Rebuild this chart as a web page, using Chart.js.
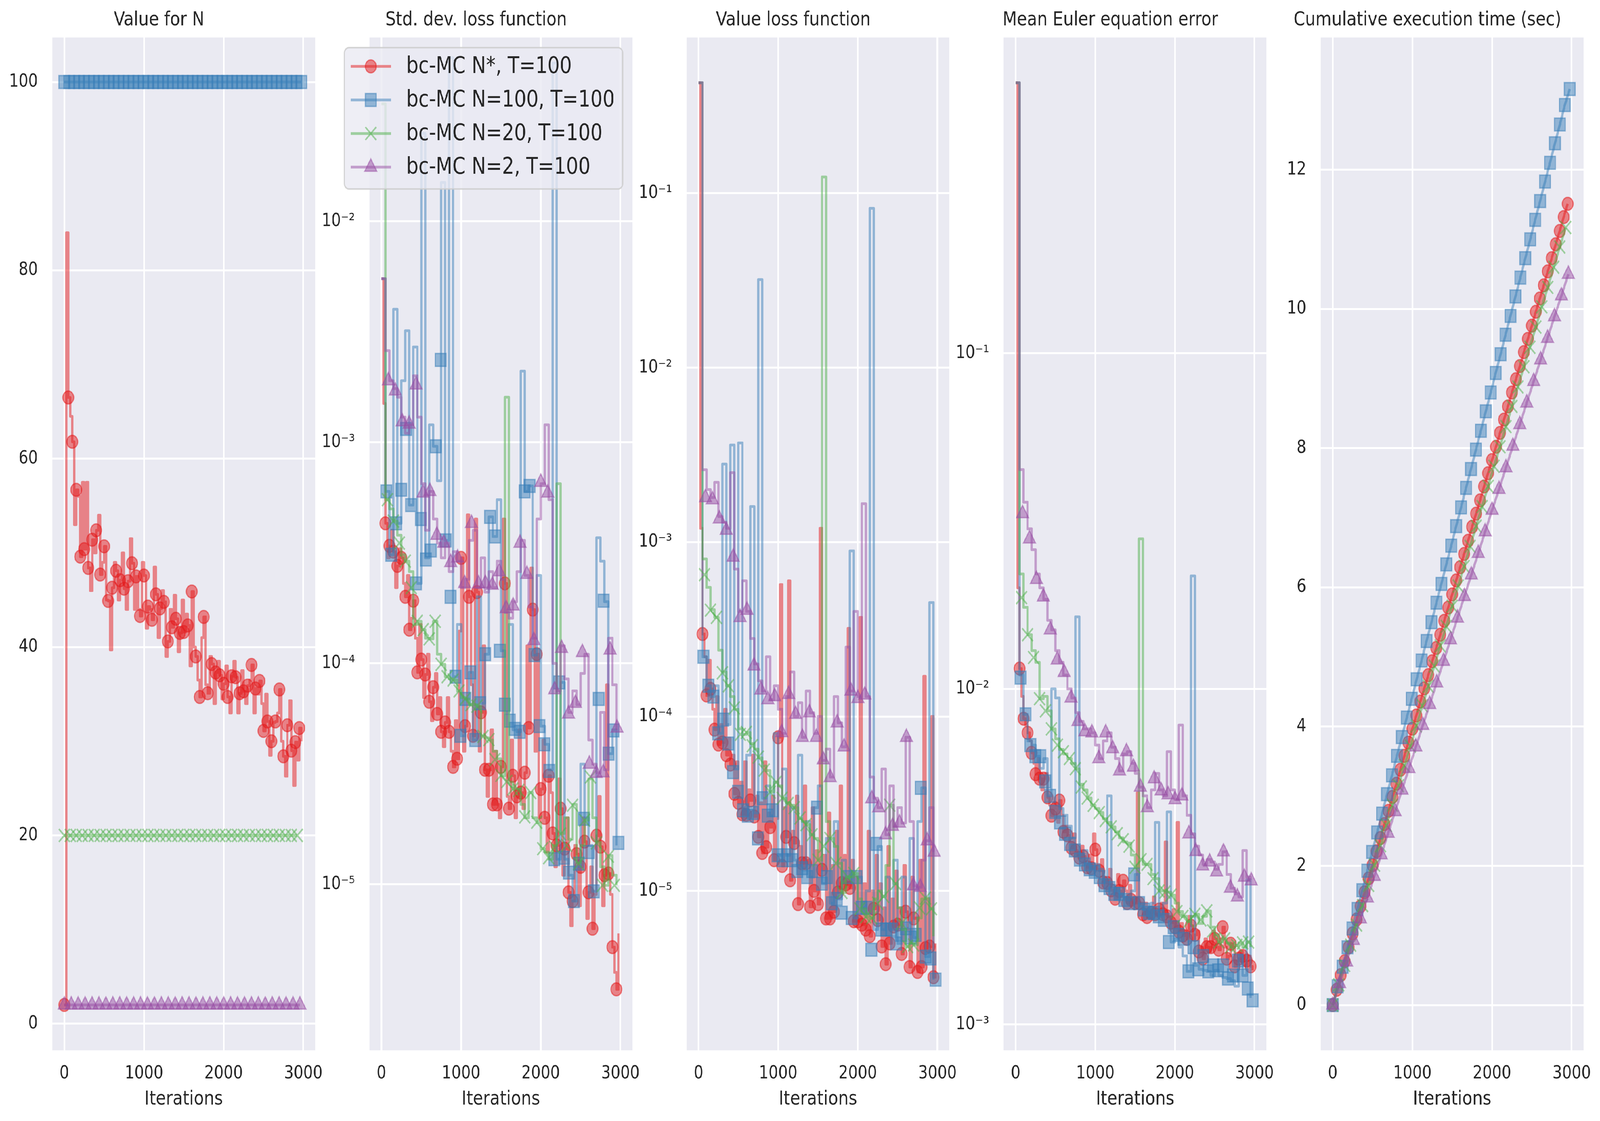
<!DOCTYPE html>
<html>
<head>
<meta charset="utf-8">
<script src="https://cdn.jsdelivr.net/npm/chart.js@4.4.1/dist/chart.umd.min.js"></script>
<style>
  html, body { margin: 0; padding: 0; background: #ffffff; overflow: hidden; }
  #wrap { position: relative; width: 4859px; height: 2871px; overflow: hidden; transform-origin: 0 0; }
  #wrap canvas { position: absolute; top: 0; }
</style>
</head>
<body>
<div id="wrap"></div>
<script>
// ---------- categories / ticks ----------
const ITER25 = [0,25,50,75,100,125,150,175,200,225,250,275,300,325,350,375,400,425,450,475,
  500,525,550,575,600,625,650,675,700,725,750,775,800,825,850,875,900,925,950,975,
  1000,1025,1050,1075,1100,1125,1150,1175,1200,1225,1250,1275,1300,1325,1350,1375,1400,1425,1450,1475,
  1500,1525,1550,1575,1600,1625,1650,1675,1700,1725,1750,1775,1800,1825,1850,1875,1900,1925,1950,1975,
  2000,2025,2050,2075,2100,2125,2150,2175,2200,2225,2250,2275,2300,2325,2350,2375,2400,2425,2450,2475,
  2500,2525,2550,2575,2600,2625,2650,2675,2700,2725,2750,2775,2800,2825,2850,2875,2900,2925,2950,2975];
const ITER50 = [0,50,100,150,200,250,300,350,400,450,500,550,600,650,700,750,800,850,900,950,
  1000,1050,1100,1150,1200,1250,1300,1350,1400,1450,1500,1550,1600,1650,1700,1750,1800,1850,1900,1950,
  2000,2050,2100,2150,2200,2250,2300,2350,2400,2450,2500,2550,2600,2650,2700,2750,2800,2850,2900,2950];
const IT_BLUE = [0,62,124,186,248,310,372,434,496,558,620,682,744,806,868,930,992,1054,1116,1178,
  1240,1302,1364,1426,1488,1550,1612,1674,1736,1798,1860,1922,1984,2046,2108,2170,2232,2294,2356,2418,
  2480,2542,2604,2666,2728,2790,2852,2914,2976];
const IT_GREEN = [0,75,150,225,300,375,450,525,600,675,750,825,900,975,1050,1125,1200,1275,1350,1425,
  1500,1575,1650,1725,1800,1875,1950,2025,2100,2175,2250,2325,2400,2475,2550,2625,2700,2775,2850,2925];
const IT_PURPLE = [0,87,174,261,348,435,522,609,696,783,870,957,1044,1131,1218,1305,1392,1479,1566,1653,
  1740,1827,1914,2001,2088,2175,2262,2349,2436,2523,2610,2697,2784,2871,2958];

const X_TICKS = [0, 1000, 2000, 3000];
const P1_YTICKS = [0, 20, 40, 60, 80, 100];
const P2_YTICKS = [1e-5, 1e-4, 1e-3, 1e-2];
const P2_YLABELS = ['10⁻⁵', '10⁻⁴', '10⁻³', '10⁻²'];
const P3_YTICKS = [1e-5, 1e-4, 1e-3, 1e-2, 1e-1];
const P3_YLABELS = ['10⁻⁵', '10⁻⁴', '10⁻³', '10⁻²', '10⁻¹'];
const P4_YTICKS = [1e-3, 1e-2, 1e-1];
const P4_YLABELS = ['10⁻³', '10⁻²', '10⁻¹'];
const P5_YTICKS = [0, 2, 4, 6, 8, 10, 12];

const LABELS = ['bc-MC N*, T=100', 'bc-MC N=100, T=100', 'bc-MC N=20, T=100', 'bc-MC N=2, T=100'];
const TITLES = ['Value for N', 'Std. dev. loss function', 'Value loss function',
  'Mean Euler equation error', 'Cumulative execution time (sec)'];

// ---------- panel 1: value for N ----------
const P1_RED = [2,84,66.5,64.5,61.8,53,56.7,56,49.6,57.5,50.4,57.5,48.4,46,51.4,50,52.4,54,47.7,49,
  50.7,45,44.9,39.7,46.3,49,48.1,45,47.1,50,46.2,44,47.0,51.5,48.9,44,47.5,44,43.3,49,
  47.6,42,44.3,44,42.9,48.5,45.6,41,44.1,46,44.8,39,40.6,44,42.1,45.5,43.0,39.5,41.5,45,
  41.6,43.5,42.3,38,45.9,40,39.0,36.5,34.7,41,43.2,36,35.1,39,38.2,34,37.3,38.5,37.0,34.5,
  36.1,38,34.7,33,36.9,38.5,36.8,33,35.1,37.5,35.3,34,35.9,36.5,38.1,33,35.6,35,36.4,34,
  31.1,35,32.1,28.5,30.0,32,32.1,33,35.5,30,28.4,26.3,31.7,34.3,29.0,25.3,29.9,28,31.4,30];
const P1_BLUE = [100,100,100,100,100,100,100,100,100,100,100,100,100,100,100,100,100,100,100,100,
  100,100,100,100,100,100,100,100,100,100,100,100,100,100,100,100,100,100,100,100,
  100,100,100,100,100,100,100,100,100];
const P1_GREEN = [20,20,20,20,20,20,20,20,20,20,20,20,20,20,20,20,20,20,20,20,
  20,20,20,20,20,20,20,20,20,20,20,20,20,20,20,20,20,20,20,20];
const P1_PURPLE = [2,2,2,2,2,2,2,2,2,2,2,2,2,2,2,2,2,2,2,2,2,2,2,2,2,2,2,2,2,2,2,2,2,2,2];

// ---------- panel 2: std. dev. loss ----------
const P2_RED = [5.5e-3,1.5e-3,4.3e-4,3.0e-4,3.4e-4,4.0e-4,3.2e-4,2.2e-4,2.76e-4,3.3e-4,
  3.0e-4,2.3e-4,2.0e-4,2.5e-4,1.42e-4,1.6e-4,1.92e-4,1.3e-4,9.1e-5,1.5e-4,
  1.04e-4,7e-5,8.9e-5,1.1e-4,6.7e-5,5.5e-5,7.8e-5,9e-5,5.9e-5,7e-5,
  4.9e-5,4.2e-5,5.4e-5,7e-5,4.9e-5,4e-5,3.4e-5,5.5e-5,3.7e-5,1.4e-4,
  3.0e-4,4e-5,5.2e-5,4.7e-4,2.0e-4,8e-5,4.7e-5,4.5e-4,2.1e-4,4e-5,
  6.0e-5,1.2e-4,3.3e-5,2.5e-5,3.3e-5,5e-5,2.3e-5,4e-5,2.3e-5,2e-5,
  3.4e-5,4.5e-4,2.3e-4,2.5e-5,2.2e-5,4.5e-5,3.1e-5,2e-5,2.5e-5,5e-5,
  2.6e-5,2.2e-5,3.2e-5,1.2e-4,5.1e-5,2.7e-4,1.75e-4,4e-5,1.1e-4,2e-5,
  2.7e-5,4.5e-5,2.0e-5,1.4e-5,3.1e-5,2.6e-5,1.7e-5,1.2e-5,1.5e-5,3e-5,
  2.2e-5,1.1e-5,1.45e-5,2e-5,9.2e-6,6.5e-6,8.4e-6,1.5e-5,1.37e-5,8e-6,
  1.2e-5,2e-5,1.56e-5,7e-6,9.2e-6,1.2e-5,6.3e-6,9e-6,1.66e-5,2.5e-5,
  1.48e-5,8e-6,1.1e-5,8e-5,1.12e-5,9e-6,5.2e-6,4e-6,3.35e-6,6e-6];
const P2_BLUE_LINE = [5.5e-3,6.0e-4,3.1e-4,4.0e-3,4.3e-4,1.9e-3,3.2e-3,5.2e-4,2.7e-3,2.3e-4,
  2.5e-2,3.0e-4,1.2e-3,9.6e-4,6.7e-4,1.5e-2,3.6e-4,5.5e-2,8.7e-5,1.5e-4,
  4.7e-5,6.9e-5,9.1e-5,4.5e-5,2.0e-4,6.6e-5,1.1e-4,4.6e-4,3.75e-4,5.5e-4,
  1.14e-4,6e-5,1.5e-4,5e-5,4.9e-5,2.1e-3,6.0e-4,6.35e-4,1.09e-4,2.5e-4,
  5.2e-5,4.3e-5,3.3e-5,5.2e-2,1.3e-5,8.2e-5,1.3e-5,1.1e-5,8.4e-6,1.2e-5,
  3.5e-5,2.0e-5,1.5e-5,9.3e-6,3.7e-4,2.9e-4,1.9e-4,3.9e-5,5.0e-5,1.5e-5];
const P2_BLUE_MARK = [5.5e-3,6.0e-4,3.1e-4,4.3e-4,6.1e-4,1.15e-3,5.2e-4,2.3e-4,4.5e-4,2.95e-4,
  3.24e-4,9.6e-4,2.36e-3,3.6e-4,2.0e-4,8.7e-5,4.7e-5,6.9e-5,9.1e-5,4.5e-5,
  6.6e-5,1.1e-4,4.6e-4,3.75e-4,1.14e-4,6.5e-5,5.5e-5,5.05e-5,4.9e-5,6.0e-4,
  6.35e-4,1.09e-4,5.2e-5,4.3e-5,3.26e-5,1.3e-5,8.2e-5,1.32e-5,1.13e-5,8.4e-6,
  1.24e-5,1.98e-5,1.4e-5,9.3e-6,6.9e-5,1.92e-4,3.9e-5,4.97e-5,1.54e-5];
const P2_GREEN_LINE = [3.4e-2,5.5e-4,5.0e-4,4.4e-4,3.8e-4,3.1e-4,2.9e-4,2.6e-4,1.5e-4,1.55e-4,
  1.42e-4,1.3e-4,1.29e-4,1.55e-4,1.1e-4,9.9e-5,8.7e-5,8.5e-5,8.4e-5,7.5e-5,
  7e-5,6.9e-5,6.5e-5,6.5e-5,6.4e-5,4.7e-5,4.6e-5,4.5e-5,4.0e-5,3.7e-5,
  3.1e-5,1.6e-3,2.9e-5,2.7e-5,2.7e-5,2.3e-5,2.0e-5,2.6e-5,2.0e-5,1.9e-5,
  1.45e-5,1.4e-5,1.3e-5,1.5e-5,6.5e-4,1.7e-5,2.0e-5,1.6e-5,2.3e-5,1.25e-5,
  1.5e-5,1.95e-5,3.0e-5,2.0e-5,1.55e-5,1.2e-5,9.9e-6,1.35e-5,1.1e-5,9.9e-6];
const P2_GREEN_MARK = [3.4e-2,5.5e-4,4.4e-4,3.5e-4,2.9e-4,2.2e-4,1.55e-4,1.42e-4,1.29e-4,1.55e-4,
  9.9e-5,8.7e-5,8.4e-5,7.5e-5,6.9e-5,6.5e-5,6.4e-5,4.67e-5,4.52e-5,3.67e-5,
  3.11e-5,2.92e-5,2.7e-5,2.66e-5,2.02e-5,2.6e-5,1.91e-5,1.45e-5,1.32e-5,1.47e-5,
  1.69e-5,1.5e-5,2.28e-5,1.24e-5,1.95e-5,3.06e-5,1.54e-5,9.9e-6,1.34e-5,9.9e-6];
const P2_PURPLE_LINE = [5.5e-3,2.6e-3,1.9e-3,1.75e-3,1.6e-3,1.3e-3,1.1e-3,1.2e-3,2.0e-3,1.3e-3,
  6.5e-4,4.0e-4,6.0e-4,4.5e-4,3.5e-4,3.0e-4,3.5e-4,2.6e-4,3.2e-4,2.9e-4,
  2.2e-4,2.4e-4,3.6e-4,4.0e-4,2.2e-4,3.0e-4,2.1e-4,2.6e-4,2.2e-4,2.9e-4,
  2.4e-4,1.7e-4,1.6e-4,1.9e-4,2.6e-4,3.6e-4,2.5e-4,1.8e-4,1.3e-4,4.5e-4,
  6.5e-4,1.2e-3,5.5e-4,1.0e-4,7.5e-5,1.2e-4,8.5e-5,6.0e-5,7.5e-5,6.5e-5,
  9.0e-5,1.1e-4,4.5e-5,3.5e-5,3.2e-5,6.0e-5,3.3e-5,1.3e-4,8.0e-5,5.0e-5];
const P2_PURPLE_MARK = [5.5e-3,1.9e-3,1.71e-3,1.24e-3,1.21e-3,1.82e-3,5.9e-4,6.0e-4,3.8e-4,3.5e-4,
  2.86e-4,3.0e-4,2.3e-4,4.3e-4,2.29e-4,2.3e-4,2.26e-4,2.6e-4,1.77e-4,1.82e-4,
  3.5e-4,2.53e-4,1.27e-4,6.6e-4,5.9e-4,7.6e-5,1.17e-4,5.9e-5,6.6e-5,1.12e-4,
  3.5e-5,3.18e-5,3.2e-5,1.15e-4,5.1e-5];

// ---------- panel 3: value loss ----------
const P3_RED = [0.43,1.2e-3,2.97e-4,2.2e-4,1.32e-4,2.1e-4,1.44e-4,1.1e-4,8.4e-5,1.3e-4,
  6.9e-5,9e-5,7.1e-5,1.1e-4,6.0e-5,7.5e-5,5.3e-5,6e-5,3.6e-5,5.5e-5,
  3.2e-5,4.2e-5,2.75e-5,5.5e-5,2.73e-5,3.8e-5,3.3e-5,6e-5,2.67e-5,3.5e-5,
  2.04e-5,3.2e-5,1.65e-5,5.5e-5,1.78e-5,2.8e-5,2.32e-5,3.5e-5,1.5e-5,2.6e-5,
  7.6e-5,5.7e-4,1.39e-5,3.0e-5,2.04e-5,6.0e-4,1.15e-5,2.2e-5,1.88e-5,3.5e-5,
  8.4e-6,1.8e-5,1.44e-5,4.0e-5,1.44e-5,1.5e-5,8.1e-6,3.0e-5,1.0e-5,1.7e-5,
  8.4e-6,1.2e-3,1.32e-5,1.6e-5,6.95e-6,2.8e-5,6.95e-6,1.4e-5,7.6e-6,2.2e-5,
  9.8e-6,4.0e-5,1.11e-5,1.6e-5,1.09e-5,3.2e-4,1.04e-5,1.5e-5,6.7e-6,1.2e-5,
  6.7e-6,3.7e-4,6.4e-6,1.1e-5,6.0e-6,2.2e-5,5.5e-6,1.0e-5,7.9e-6,1.6e-5,
  6.8e-6,1.1e-5,4.8e-6,8e-6,3.8e-6,1.8e-5,5.0e-6,9e-6,6.25e-6,1.3e-5,
  6.4e-6,8e-6,4.35e-6,1.4e-5,7.6e-6,6e-6,3.66e-6,1.2e-5,6.95e-6,7e-6,
  3.43e-6,1.5e-5,3.66e-6,1.7e-4,4.7e-6,9e-6,4.8e-6,1.0e-4,3.2e-6,5e-6];
const P3_BLUE_LINE = [0.43,2.2e-4,1.5e-4,1.3e-4,1.5e-4,8e-5,2.8e-3,9e-5,3.6e-3,5e-5,
  3.7e-3,3e-5,6e-5,1.6e-3,2.8e-5,3.2e-2,3.4e-5,4e-5,2.7e-5,8e-5,
  1.6e-5,5e-5,1.6e-5,3e-5,1.5e-5,6e-5,1.35e-5,2.5e-5,1.2e-5,3.0e-5,
  4e-5,1.1e-5,2e-5,8.5e-6,2.5e-5,9e-6,1.5e-5,1.2e-5,8.9e-4,7e-6,
  1.2e-5,8e-6,1.0e-5,8.2e-2,6e-6,1.8e-5,6e-6,1.2e-5,6e-6,1.5e-5,
  5e-6,1.2e-5,6.1e-6,2.0e-5,5.4e-6,2.5e-5,3.9e-5,4.2e-6,4.5e-4,3.1e-6];
const P3_BLUE_MARK = [0.43,2.2e-4,1.5e-4,1.3e-4,8e-5,9.6e-5,7e-5,4.8e-5,3.7e-5,2.9e-5,
  2.7e-5,2.8e-5,2.0e-5,3.4e-5,2.7e-5,2.9e-5,1.6e-5,1.5e-5,1.6e-5,1.5e-5,
  1.3e-5,1.35e-5,1.2e-5,1.3e-5,3.0e-5,1.1e-5,1.2e-5,8.5e-6,9e-6,7.5e-6,
  1.2e-5,7e-6,1.2e-5,8e-6,8e-6,4.6e-6,1.86e-5,6e-6,6e-6,6e-6,
  5e-6,5.6e-6,6.1e-6,5.4e-6,5.6e-6,3.9e-5,4.2e-6,4.1e-6,3.1e-6];
const P3_GREEN_LINE = [0.43,8e-4,5.5e-4,4.1e-4,3.7e-4,2.4e-4,1.8e-4,1.5e-4,1.3e-4,1.1e-4,
  8.5e-5,7.9e-5,8.1e-5,7e-5,6.5e-5,5.8e-5,5.2e-5,4.9e-5,3.7e-5,4.2e-5,
  4e-5,3.4e-5,3.2e-5,3.1e-5,3.0e-5,2.6e-5,2.5e-5,2.4e-5,2.1e-5,2.0e-5,
  1.5e-5,0.124,2.5e-5,2.0e-5,1.8e-5,1.44e-5,9.8e-6,1.2e-5,1.2e-5,1.26e-5,
  9e-6,7.9e-6,7.1e-6,7.0e-6,9e-6,1.0e-5,9.3e-6,1.4e-5,3.1e-5,1.1e-5,
  8e-6,6e-6,4.8e-6,5.0e-6,4.9e-6,7e-6,9e-6,9.1e-6,7.9e-6,5.5e-6];
const P3_GREEN_MARK = [0.43,6.5e-4,4.07e-4,3.7e-4,1.78e-4,1.5e-4,1.12e-4,7.9e-5,8.1e-5,6.8e-5,
  5.85e-5,4.93e-5,3.68e-5,4.2e-5,3.4e-5,3.17e-5,3.0e-5,2.62e-5,2.4e-5,2.1e-5,
  1.5e-5,1.8e-5,2.0e-5,1.44e-5,9.8e-6,1.2e-5,1.26e-5,7.9e-6,7.1e-6,7.0e-6,
  8.5e-6,9.3e-6,3.1e-5,1.1e-5,6.5e-6,4.8e-6,4.9e-6,8e-6,9.1e-6,7.9e-6];
const P3_PURPLE_LINE = [0.43,2.6e-3,2.0e-3,1.8e-3,2.2e-3,1.4e-3,1.3e-3,1.2e-3,2.5e-3,7e-4,
  4e-4,6e-4,4e-4,2.8e-4,2e-4,1.6e-4,1.4e-4,2.2e-4,1.25e-4,1.5e-4,
  1.1e-4,8e-5,1.3e-4,1.8e-4,1.0e-4,1.2e-4,7.6e-5,1.4e-4,1.05e-4,8e-5,
  1.0e-4,5.6e-5,6.5e-5,4.5e-5,1.3e-4,9.2e-5,6.7e-5,2.5e-4,1.4e-4,4e-4,
  1.3e-4,1.66e-3,1.3e-4,4.5e-5,3.4e-5,3.0e-5,5e-5,2.1e-5,4e-5,2.35e-5,
  3e-5,2.45e-5,7.6e-5,2.5e-5,1.07e-5,1.05e-5,1.5e-5,1.94e-5,3e-5,1.67e-5];
const P3_PURPLE_MARK = [0.43,1.8e-3,1.75e-3,1.36e-3,1.17e-3,8.2e-4,3.7e-4,4.07e-4,1.95e-4,1.42e-4,
  1.25e-4,1.3e-4,8.1e-5,1.34e-4,1.03e-4,7.6e-5,1.05e-4,7.6e-5,5.65e-5,4.47e-5,
  9.2e-5,6.7e-5,1.4e-4,1.27e-4,1.33e-4,3.38e-5,3.0e-5,2.1e-5,2.35e-5,2.45e-5,
  7.6e-5,1.07e-5,1.05e-5,1.94e-5,1.67e-5];

// ---------- panel 4: mean Euler equation error ----------
const P4_RED = [0.64,2.0e-2,1.15e-2,9.5e-3,8.15e-3,7.8e-3,7.4e-3,7.0e-3,6.45e-3,6.0e-3,
  5.57e-3,6.2e-3,5.4e-3,5.0e-3,5.4e-3,5.6e-3,4.75e-3,4.5e-3,4.19e-3,4.6e-3,
  4.4e-3,4.0e-3,4.65e-3,4.2e-3,3.75e-3,3.9e-3,3.66e-3,3.5e-3,3.36e-3,3.7e-3,
  3.3e-3,3.2e-3,3.14e-3,3.4e-3,3.17e-3,3.0e-3,2.94e-3,3.2e-3,2.92e-3,3.7e-3,
  3.32e-3,2.9e-3,2.87e-3,3.1e-3,2.65e-3,2.7e-3,2.64e-3,2.9e-3,2.51e-3,2.5e-3,
  2.37e-3,2.8e-3,2.5e-3,2.4e-3,2.68e-3,2.5e-3,2.3e-3,2.6e-3,2.35e-3,2.3e-3,
  2.3e-3,4.9e-3,2.3e-3,2.3e-3,2.13e-3,2.3e-3,2.09e-3,2.2e-3,2.15e-3,2.4e-3,
  2.13e-3,2.1e-3,2.2e-3,2.3e-3,2.13e-3,3.5e-3,2.1e-3,2.1e-3,2.01e-3,2.2e-3,
  1.95e-3,4.0e-3,1.89e-3,2.0e-3,1.84e-3,1.9e-3,1.8e-3,2.1e-3,1.97e-3,1.8e-3,
  1.85e-3,1.9e-3,1.65e-3,1.7e-3,1.57e-3,1.8e-3,1.7e-3,1.65e-3,1.7e-3,1.9e-3,
  1.8e-3,1.7e-3,1.67e-3,1.8e-3,1.95e-3,1.7e-3,1.57e-3,1.6e-3,1.74e-3,1.7e-3,
  1.49e-3,1.55e-3,1.57e-3,1.65e-3,1.6e-3,1.5e-3,1.55e-3,1.6e-3,1.49e-3,1.45e-3];
const P4_BLUE_LINE = [0.64,1.1e-2,8.4e-3,7.0e-3,6.8e-3,6.3e-3,5.8e-3,6.2e-3,4.8e-3,1.0e-2,
  9.4e-3,4.4e-3,4.2e-3,3.9e-3,3.6e-3,1.64e-2,3.2e-3,3.3e-3,3.0e-3,2.9e-3,
  3.0e-3,2.9e-3,2.7e-3,4.8e-3,2.6e-3,2.5e-3,2.45e-3,2.4e-3,2.35e-3,2.5e-3,
  2.8e-3,2.25e-3,2.2e-3,2.1e-3,2.3e-3,4.0e-3,2.1e-3,2.3e-3,4.3e-3,1.76e-3,
  1.8e-3,1.7e-3,1.6e-3,1.44e-3,2.17e-2,1.5e-3,1.46e-3,1.45e-3,1.44e-3,1.4e-3,
  1.45e-3,1.4e-3,1.38e-3,1.37e-3,1.35e-3,1.3e-3,1.6e-3,1.4e-3,2.7e-3,1.2e-3];
const P4_BLUE_MARK = [0.64,1.08e-2,8.4e-3,6.8e-3,6.3e-3,6.3e-3,5.3e-3,4.8e-3,4.3e-3,4.0e-3,
  3.7e-3,3.45e-3,3.3e-3,3.1e-3,3.0e-3,2.9e-3,2.85e-3,2.75e-3,2.6e-3,2.55e-3,
  2.45e-3,2.45e-3,2.35e-3,2.3e-3,2.8e-3,2.3e-3,2.2e-3,2.15e-3,2.15e-3,2.1e-3,
  2.05e-3,1.76e-3,1.95e-3,1.85e-3,1.8e-3,1.44e-3,1.7e-3,1.46e-3,1.6e-3,1.44e-3,
  1.5e-3,1.45e-3,1.5e-3,1.37e-3,1.4e-3,1.55e-3,1.4e-3,1.28e-3,1.18e-3];
const P4_GREEN_LINE = [0.64,2.2e-2,1.75e-2,1.45e-2,1.3e-2,1.2e-2,9.35e-3,9.5e-3,8.6e-3,7.6e-3,
  7.1e-3,6.6e-3,6.4e-3,6.2e-3,6.0e-3,5.78e-3,5.2e-3,5.0e-3,4.73e-3,4.5e-3,
  4.4e-3,4.28e-3,4.1e-3,4.0e-3,3.88e-3,3.75e-3,3.6e-3,3.5e-3,3.47e-3,3.2e-3,
  2.94e-3,2.8e-2,3.0e-3,3.0e-3,2.8e-3,2.72e-3,2.5e-3,2.5e-3,2.48e-3,2.43e-3,
  2.3e-3,2.17e-3,2.1e-3,2.03e-3,2.1e-3,2.13e-3,2.0e-3,2.1e-3,2.18e-3,1.95e-3,
  1.85e-3,1.76e-3,1.8e-3,1.75e-3,1.7e-3,1.72e-3,1.75e-3,1.7e-3,1.76e-3,1.7e-3];
const P4_GREEN_MARK = [0.64,1.87e-2,1.45e-2,1.24e-2,9.35e-3,8.6e-3,7.6e-3,6.8e-3,6.5e-3,6.2e-3,
  5.78e-3,5.1e-3,4.73e-3,4.5e-3,4.28e-3,4.05e-3,3.88e-3,3.7e-3,3.55e-3,3.4e-3,
  2.94e-3,3.1e-3,3.0e-3,2.72e-3,2.5e-3,2.48e-3,2.43e-3,2.17e-3,2.1e-3,2.03e-3,
  2.13e-3,2.05e-3,2.18e-3,1.9e-3,1.76e-3,1.8e-3,1.7e-3,1.72e-3,1.75e-3,1.76e-3];
const P4_PURPLE_LINE = [0.64,4.5e-2,3.6e-2,3.0e-2,2.6e-2,2.2e-2,2.0e-2,1.85e-2,1.6e-2,1.5e-2,
  1.3e-2,1.2e-2,1.1e-2,1.0e-2,9.4e-3,8.5e-3,8.0e-3,7.6e-3,7.6e-3,7.4e-3,
  6.8e-3,6.2e-3,7.0e-3,7.4e-3,6.7e-3,6.2e-3,5.7e-3,6.4e-3,6.5e-3,6.0e-3,
  5.6e-3,5.1e-3,4.8e-3,4.43e-3,5.0e-3,5.6e-3,5.0e-3,4.8e-3,6.5e-3,5.0e-3,
  4.68e-3,7.8e-3,4.8e-3,4.2e-3,3.7e-3,3.4e-3,3.2e-3,3.0e-3,3.1e-3,3.05e-3,
  2.9e-3,3.0e-3,3.27e-3,2.8e-3,2.55e-3,2.45e-3,2.4e-3,3.3e-3,2.75e-3,2.7e-3];
const P4_PURPLE_MARK = [0.64,3.33e-2,2.8e-2,2.12e-2,1.88e-2,1.5e-2,1.22e-2,1.12e-2,9.4e-3,8.0e-3,
  7.46e-3,7.4e-3,6.2e-3,7.4e-3,6.64e-3,5.7e-3,6.5e-3,5.85e-3,5.1e-3,4.43e-3,
  5.4e-3,4.97e-3,4.84e-3,4.68e-3,4.8e-3,3.7e-3,3.28e-3,2.97e-3,3.05e-3,2.85e-3,
  3.27e-3,2.55e-3,2.4e-3,2.75e-3,2.68e-3];

// ---------- panel 5: cumulative execution time ----------
const P5_RED = [0,0.22,0.43,0.63,0.83,1.03,1.23,1.42,1.62,1.82,2.01,2.21,2.40,2.60,2.79,2.99,3.18,3.38,3.58,3.77,
  3.97,4.16,4.36,4.55,4.74,4.94,5.13,5.32,5.52,5.71,5.90,6.10,6.29,6.48,6.67,6.87,7.06,7.25,7.45,7.64,
  7.83,8.02,8.22,8.41,8.60,8.80,8.99,9.18,9.38,9.57,9.76,9.96,10.15,10.34,10.54,10.73,10.93,11.12,11.32,11.51];
const P5_BLUE = [0,0.27,0.55,0.83,1.10,1.38,1.65,1.93,2.20,2.48,2.75,3.03,3.30,3.58,3.85,4.13,4.40,4.68,4.95,5.23,
  5.50,5.78,6.05,6.33,6.60,6.88,7.15,7.43,7.70,7.98,8.25,8.53,8.80,9.08,9.35,9.63,9.90,10.18,10.45,10.73,
  11.00,11.28,11.55,11.83,12.10,12.38,12.65,12.93,13.16];
const P5_GREEN = [0,0.29,0.57,0.86,1.15,1.43,1.72,2.01,2.29,2.58,2.87,3.15,3.44,3.72,4.01,4.30,4.58,4.87,5.16,5.44,
  5.73,6.02,6.30,6.59,6.88,7.16,7.45,7.74,8.02,8.31,8.60,8.88,9.17,9.45,9.74,10.03,10.31,10.60,10.89,11.17];
const P5_PURPLE = [0,0.31,0.62,0.93,1.24,1.54,1.85,2.16,2.47,2.78,3.09,3.40,3.71,4.02,4.32,4.63,4.94,5.25,5.56,5.87,
  6.18,6.49,6.80,7.11,7.41,7.72,8.03,8.34,8.65,8.96,9.27,9.58,9.89,10.19,10.50];

// ---------- styling ----------
Chart.defaults.font.family = '"DejaVu Sans", sans-serif';
const INK = '#262626';
const RGB = ['228,26,28', '55,126,184', '77,175,74', '152,78,163'];
const STYLES = ['circle', 'rect', 'crossRot', 'triangle'];
const RADII = [16.5, 23.3, 23.3, 21];
const EDGE = [3.5, 3.5, 4.5, 3.5];
const LINE_W = 7;
const rgba = (s, a) => 'rgba(' + RGB[s] + ',' + a + ')';

function pts(xs, ys) {
  return xs.map((x, i) => ({ x: x, y: ys[i] }));
}

// line of one series; markers on every `every`-th point (0 = none)
function lineSet(s, xs, ys, every, hideFirst, stepped) {
  return {
    data: pts(xs, ys),
    borderColor: rgba(s, 0.5),
    backgroundColor: rgba(s, 0.5),
    borderWidth: LINE_W,
    borderJoinStyle: 'round',
    stepped: stepped,
    tension: 0,
    pointStyle: STYLES[s],
    pointRadius: every ? (c => (c.dataIndex % every === 0 && (c.dataIndex > 0 || !hideFirst)) ? RADII[s] : 0) : 0,
    pointBorderWidth: EDGE[s],
    pointBackgroundColor: rgba(s, 0.5),
    pointBorderColor: rgba(s, 0.5),
    order: 10 - 2 * s
  };
}

function markSet(s, xs, ys, hideFirst) {
  return {
    data: pts(xs, ys),
    showLine: false,
    pointStyle: STYLES[s],
    pointRadius: c => (c.dataIndex > 0 || !hideFirst) ? RADII[s] : 0,
    pointBorderWidth: EDGE[s],
    pointBackgroundColor: rgba(s, 0.5),
    pointBorderColor: rgba(s, 0.5),
    order: 9 - 2 * s
  };
}

const PANELS = [
  {
    type: 'linear', min: -2.82, max: 104.73, ticks: P1_YTICKS, labels: P1_YTICKS.map(String),
    sets: [
      lineSet(0, ITER25, P1_RED, 2, false, true),
      lineSet(1, IT_BLUE, P1_BLUE, 1, false, false),
      lineSet(2, IT_GREEN, P1_GREEN, 1, false, false),
      lineSet(3, IT_PURPLE, P1_PURPLE, 1, false, false)
    ]
  },
  {
    type: 'logarithmic', min: 1.774e-6, max: 0.0679, ticks: P2_YTICKS, labels: P2_YLABELS, legend: true,
    sets: [
      lineSet(0, ITER25, P2_RED, 2, true, true),
      lineSet(1, ITER50, P2_BLUE_LINE, 0, true, true), markSet(1, IT_BLUE, P2_BLUE_MARK, true),
      lineSet(2, ITER50, P2_GREEN_LINE, 0, true, true), markSet(2, IT_GREEN, P2_GREEN_MARK, true),
      lineSet(3, ITER50, P2_PURPLE_LINE, 0, true, true), markSet(3, IT_PURPLE, P2_PURPLE_MARK, true)
    ]
  },
  {
    type: 'logarithmic', min: 1.219e-6, max: 0.7816, ticks: P3_YTICKS, labels: P3_YLABELS,
    sets: [
      lineSet(0, ITER25, P3_RED, 2, true, true),
      lineSet(1, ITER50, P3_BLUE_LINE, 0, true, true), markSet(1, IT_BLUE, P3_BLUE_MARK, true),
      lineSet(2, ITER50, P3_GREEN_LINE, 0, true, true), markSet(2, IT_GREEN, P3_GREEN_MARK, true),
      lineSet(3, ITER50, P3_PURPLE_LINE, 0, true, true), markSet(3, IT_PURPLE, P3_PURPLE_MARK, true)
    ]
  },
  {
    type: 'logarithmic', min: 8.375e-4, max: 0.873, ticks: P4_YTICKS, labels: P4_YLABELS,
    sets: [
      lineSet(0, ITER25, P4_RED, 2, true, true),
      lineSet(1, ITER50, P4_BLUE_LINE, 0, true, true), markSet(1, IT_BLUE, P4_BLUE_MARK, true),
      lineSet(2, ITER50, P4_GREEN_LINE, 0, true, true), markSet(2, IT_GREEN, P4_GREEN_MARK, true),
      lineSet(3, ITER50, P4_PURPLE_LINE, 0, true, true), markSet(3, IT_PURPLE, P4_PURPLE_MARK, true)
    ]
  },
  {
    type: 'linear', min: -0.65, max: 13.9, ticks: P5_YTICKS, labels: P5_YTICKS.map(String),
    sets: [
      lineSet(0, ITER50, P5_RED, 1, false, false),
      lineSet(1, IT_BLUE, P5_BLUE, 1, false, false),
      lineSet(2, IT_GREEN, P5_GREEN, 1, false, false),
      lineSet(3, IT_PURPLE, P5_PURPLE, 1, false, false)
    ]
  }
];

// axes face
const facePlugin = {
  id: 'face',
  beforeDraw(chart) {
    const a = chart.chartArea, ctx = chart.ctx;
    ctx.save();
    ctx.fillStyle = '#EAEAF2';
    ctx.fillRect(a.left, a.top, a.right - a.left, a.bottom - a.top);
    ctx.restore();
  }
};

function drawMarker(ctx, s, x, y) {
  const r = RADII[s];
  ctx.fillStyle = rgba(s, 0.5);
  ctx.strokeStyle = rgba(s, 0.5);
  ctx.lineWidth = EDGE[s];
  ctx.beginPath();
  if (STYLES[s] === 'circle') {
    ctx.arc(x, y, r, 0, Math.PI * 2);
  } else if (STYLES[s] === 'rect') {
    const h = r * Math.SQRT1_2;
    ctx.rect(x - h, y - h, 2 * h, 2 * h);
  } else if (STYLES[s] === 'triangle') {
    ctx.moveTo(x, y - r);
    ctx.lineTo(x + 0.866 * r, y + 0.5 * r);
    ctx.lineTo(x - 0.866 * r, y + 0.5 * r);
    ctx.closePath();
  } else {
    const h = r * Math.SQRT1_2;
    ctx.moveTo(x - h, y - h); ctx.lineTo(x + h, y + h);
    ctx.moveTo(x - h, y + h); ctx.lineTo(x + h, y - h);
    ctx.stroke();
    return;
  }
  ctx.fill();
  ctx.stroke();
}

// matplotlib-like legend inside panel 2
const legendPlugin = {
  id: 'mplLegend',
  afterDraw(chart) {
    const ctx = chart.ctx;
    const bx = 74, by = 122, bw = 845, bh = 362, rad = 14;
    ctx.save();
    ctx.beginPath();
    ctx.moveTo(bx + rad, by);
    ctx.arcTo(bx + bw, by, bx + bw, by + bh, rad);
    ctx.arcTo(bx + bw, by + bh, bx, by + bh, rad);
    ctx.arcTo(bx, by + bh, bx, by, rad);
    ctx.arcTo(bx, by, bx + bw, by, rad);
    ctx.closePath();
    ctx.fillStyle = 'rgba(234,234,242,0.8)';
    ctx.fill();
    ctx.strokeStyle = 'rgba(204,204,204,0.8)';
    ctx.lineWidth = 4;
    ctx.stroke();
    LABELS.forEach((label, s) => {
      const y = 170 + s * 86;
      ctx.strokeStyle = rgba(s, 0.5);
      ctx.lineWidth = LINE_W;
      ctx.beginPath();
      ctx.moveTo(93, y);
      ctx.lineTo(215, y);
      ctx.stroke();
      drawMarker(ctx, s, 154, y);
      ctx.fillStyle = INK;
      ctx.font = '58px "DejaVu Sans"';
      ctx.textBaseline = 'middle';
      ctx.textAlign = 'left';
      ctx.fillText(label, 262, y + 2);
    });
    ctx.restore();
  }
};

const wrap = document.getElementById('wrap');
PANELS.forEach((p, i) => {
  const cv = document.createElement('canvas');
  cv.width = 1098;
  cv.height = 2871;
  cv.style.width = '1098px';
  cv.style.height = '2871px';
  cv.style.left = (9 + 963 * i) + 'px';
  wrap.appendChild(cv);

  new Chart(cv, {
    type: 'line',
    data: { datasets: p.sets },
    plugins: p.legend ? [facePlugin, legendPlugin] : [facePlugin],
    options: {
      responsive: false,
      devicePixelRatio: 1,
      animation: false,
      events: [],
      parsing: false,
      layout: { padding: { left: 0, right: 150, top: 0, bottom: 0 } },
      plugins: {
        legend: { display: false },
        tooltip: { enabled: false },
        title: {
          display: true,
          text: TITLES[i],
          color: INK,
          font: { size: 50, weight: 'normal' },
          padding: { top: 21.7, bottom: 14.3 }
        }
      },
      scales: {
        x: {
          type: 'linear',
          min: -150,
          max: 3149,
          afterBuildTicks: sc => { sc.ticks = X_TICKS.map(v => ({ value: v })); },
          afterFit: sc => { sc.height = 181; },
          grid: { color: '#ffffff', lineWidth: 5, drawTicks: false },
          border: { display: false },
          ticks: {
            callback: v => String(v),
            padding: 32,
            color: INK,
            font: { size: 46 },
            maxRotation: 0,
            autoSkip: false
          },
          title: {
            display: true,
            text: 'Iterations',
            color: INK,
            font: { size: 50 },
            padding: { top: 0, bottom: 25 }
          }
        },
        y: {
          type: p.type,
          min: p.min,
          max: p.max,
          afterBuildTicks: sc => { sc.ticks = p.ticks.map(v => ({ value: v })); },
          afterFit: sc => { sc.width = 150; },
          grid: { color: '#ffffff', lineWidth: 5, drawTicks: false },
          border: { display: false },
          ticks: {
            callback: (v, idx) => p.labels[idx],
            padding: 44,
            color: INK,
            font: { size: 46 },
            autoSkip: false
          }
        }
      }
    }
  });
});

// the figure is laid out at 4859 x 2871; fit it to the actual window
const sx = window.innerWidth / 4859, sy = window.innerHeight / 2871;
if (Math.abs(sx - 1) > 0.001 || Math.abs(sy - 1) > 0.001) {
  wrap.style.transform = 'scale(' + sx + ',' + sy + ')';
}
</script>
</body>
</html>
